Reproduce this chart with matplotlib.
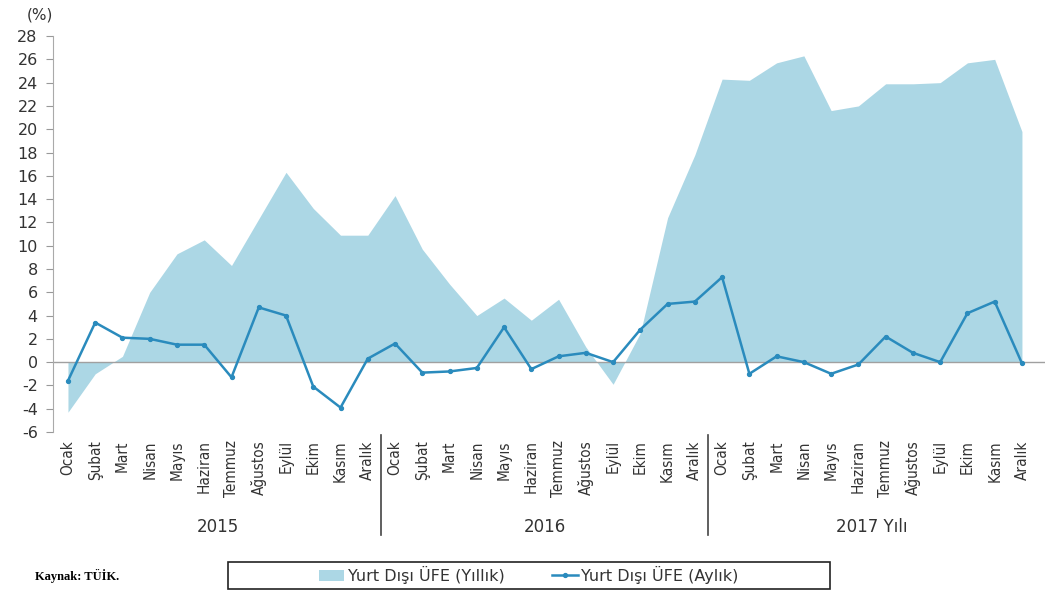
import matplotlib.pyplot as plt
from matplotlib.patches import Rectangle
from matplotlib.transforms import blended_transform_factory
import numpy as np

months = ["Ocak", "Şubat", "Mart", "Nisan", "Mayıs", "Haziran", "Temmuz",
          "Ağustos", "Eylül", "Ekim", "Kasım", "Aralık"]
years = ["2015", "2016", "2017 Yılı"]

# Yurt Dışı ÜFE (Yıllık), % - 2015..2017
annual = [-4.3, -1.0, 0.5, 6.0, 9.3, 10.5, 8.3, 12.3, 16.3, 13.2, 10.9, 10.9,
          14.3, 9.7, 6.7, 4.0, 5.5, 3.6, 5.4, 1.3, -1.9, 2.5, 12.4, 17.8,
          24.3, 24.2, 25.7, 26.3, 21.6, 22.0, 23.9, 23.9, 24.0, 25.7, 26.0, 19.8]
# Yurt Dışı ÜFE (Aylık), %
monthly = [-1.6, 3.4, 2.1, 2.0, 1.5, 1.5, -1.3, 4.7, 4.0, -2.1, -3.9, 0.3,
           1.6, -0.9, -0.8, -0.5, 3.0, -0.6, 0.5, 0.8, 0.0, 2.8, 5.0, 5.2,
           7.3, -1.0, 0.5, 0.0, -1.0, -0.2, 2.2, 0.8, 0.0, 4.2, 5.2, -0.1]

x = np.arange(len(annual))
labels = months * 3

plt.rcParams['font.family'] = ['DejaVu Sans']
plt.rcParams['axes.unicode_minus'] = False

fig = plt.figure(figsize=(10.51, 5.91), dpi=100)
ax = fig.add_axes([0.0504, 0.269, 0.944, 0.670])

ax.fill_between(x, 0, annual, color='#acd7e5', linewidth=0,
                label='Yurt Dışı ÜFE (Yıllık)')
ax.axhline(0, color='#a0a0a0', lw=1)
ax.plot(x, monthly, color='#2a8bbd', lw=1.8, marker='o', ms=2.8,
        label='Yurt Dışı ÜFE (Aylık)')

ax.set_xlim(-0.55, 35.85)
ax.set_ylim(-6, 28)
ax.set_yticks(range(-6, 29, 2))
ax.tick_params(axis='y', labelsize=11.5, colors='#333333', length=5,
               color='#999999', pad=6)
ax.set_xticks(x)
ax.set_xticklabels(labels, rotation=90, fontsize=11, color='#333333',
                   fontstretch='condensed')
ax.tick_params(axis='x', length=0, pad=6)
for s in ['top', 'right', 'bottom']:
    ax.spines[s].set_visible(False)
ax.spines['left'].set_color('#aaaaaa')

fig.text(40 / 1051, 1 - 15 / 591, '(%)', ha='center', va='center',
         fontsize=11, color='#333333')

# year separators and year labels
tr = blended_transform_factory(ax.transData, fig.transFigure)
for xs in [11.5, 23.5]:
    ax.plot([xs, xs], [1 - 435 / 591, 1 - 535 / 591], color='#444444',
            lw=1.2, transform=tr, clip_on=False)
for i, yl in enumerate(years):
    ax.text(i * 12 + 5.5, 1 - 527 / 591, yl, transform=tr, ha='center',
            va='center', fontsize=12, color='#333333')

fig.text(0.033, 1 - 576 / 591, 'Kaynak: TÜİK.', fontsize=9,
         fontweight='bold', family='Liberation Serif', va='center')

fig.patches.append(Rectangle((228 / 1051, 1 - 589 / 591), 602 / 1051,
                             27 / 591, transform=fig.transFigure,
                             fill=False, edgecolor='#222222', lw=1.2))
h, l = ax.get_legend_handles_labels()
fig.legend(h, l, loc='center', bbox_to_anchor=(0.503, 1 - 575 / 591),
           ncol=2, frameon=False, fontsize=11.5, handlelength=1.6,
           handletextpad=0.2, columnspacing=3.0, labelcolor='#333333')

fig.savefig('out.png', dpi=100)
